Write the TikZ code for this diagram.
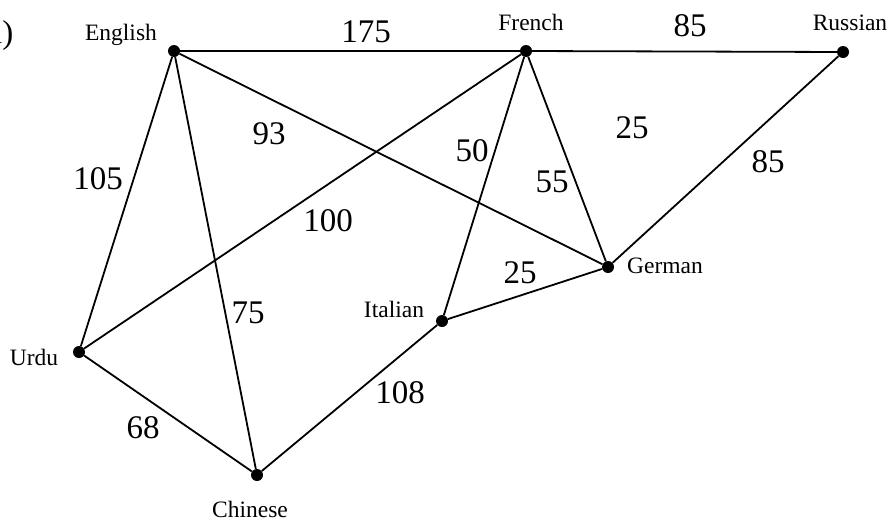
\documentclass[tikz,border=0pt]{standalone}
\usepackage{fontspec}
\setmainfont{Liberation Serif}
\begin{document}
\begin{tikzpicture}[x=1pt,y=-1pt,
  dot/.style={circle,fill=black,inner sep=0pt,minimum size=12pt},
  lang/.style={inner sep=0pt,anchor=base,font=\fontsize{23.5}{23.5}\selectfont},
  wt/.style={inner sep=0pt,anchor=center,font=\fontsize{33}{33}\selectfont},
  edge/.style={line width=1.8pt}]
\useasboundingbox (0,0) rectangle (890,525);
% vertices
\node[dot] (en) at (174,51) {};
\node[dot] (fr) at (526,51) {};
\node[dot] (ru) at (843,52) {};
\node[dot] (ge) at (608,267) {};
\node[dot] (it) at (442,321) {};
\node[dot] (ur) at (79,352) {};
\node[dot] (ch) at (257,475) {};
% vertex names
\node[lang] (enl) at (121,40) {English};
\node[lang] (frl) at (531,30) {French};
\node[lang] (rul) at (850,30) {Russian};
\node[lang] (gel) at (665,273) {German};
\node[lang] (itl) at (394,317) {Italian};
\node[lang] (url) at (34,365) {Urdu};
\node[lang] (chl) at (250,517) {Chinese};
% part label
\node[inner sep=0pt,anchor=base east,font=\fontsize{33}{33}\selectfont] (part) at (13.5,43) {i)};
% edges
\draw[edge] (en) -- (fr);
\draw[edge] (fr) -- (ru);
\draw[edge] (en) -- (ur);
\draw[edge] (en) -- (ch);
\draw[edge] (en) -- (ge);
\draw[edge] (fr) -- (ur);
\draw[edge] (fr) -- (it);
\draw[edge] (fr) -- (ge);
\draw[edge] (ru) -- (ge);
\draw[edge] (it) -- (ge);
\draw[edge] (it) -- (ch);
\draw[edge] (ur) -- (ch);
% weights
\node[wt] (w1) at (366,32) {175};
\node[wt] (w2) at (690,26) {85};
\node[wt] (w3) at (269,134) {93};
\node[wt] (w4) at (98,179) {105};
\node[wt] (w5) at (328,221) {100};
\node[wt] (w6) at (472,151) {50};
\node[wt] (w7) at (552,182) {55};
\node[wt] (w8) at (632,128) {25};
\node[wt] (w9) at (768,162) {85};
\node[wt] (w10) at (520,273) {25};
\node[wt] (w11) at (248,313) {75};
\node[wt] (w12) at (400,393) {108};
\node[wt] (w13) at (143,428) {68};
\end{tikzpicture}
\end{document}
